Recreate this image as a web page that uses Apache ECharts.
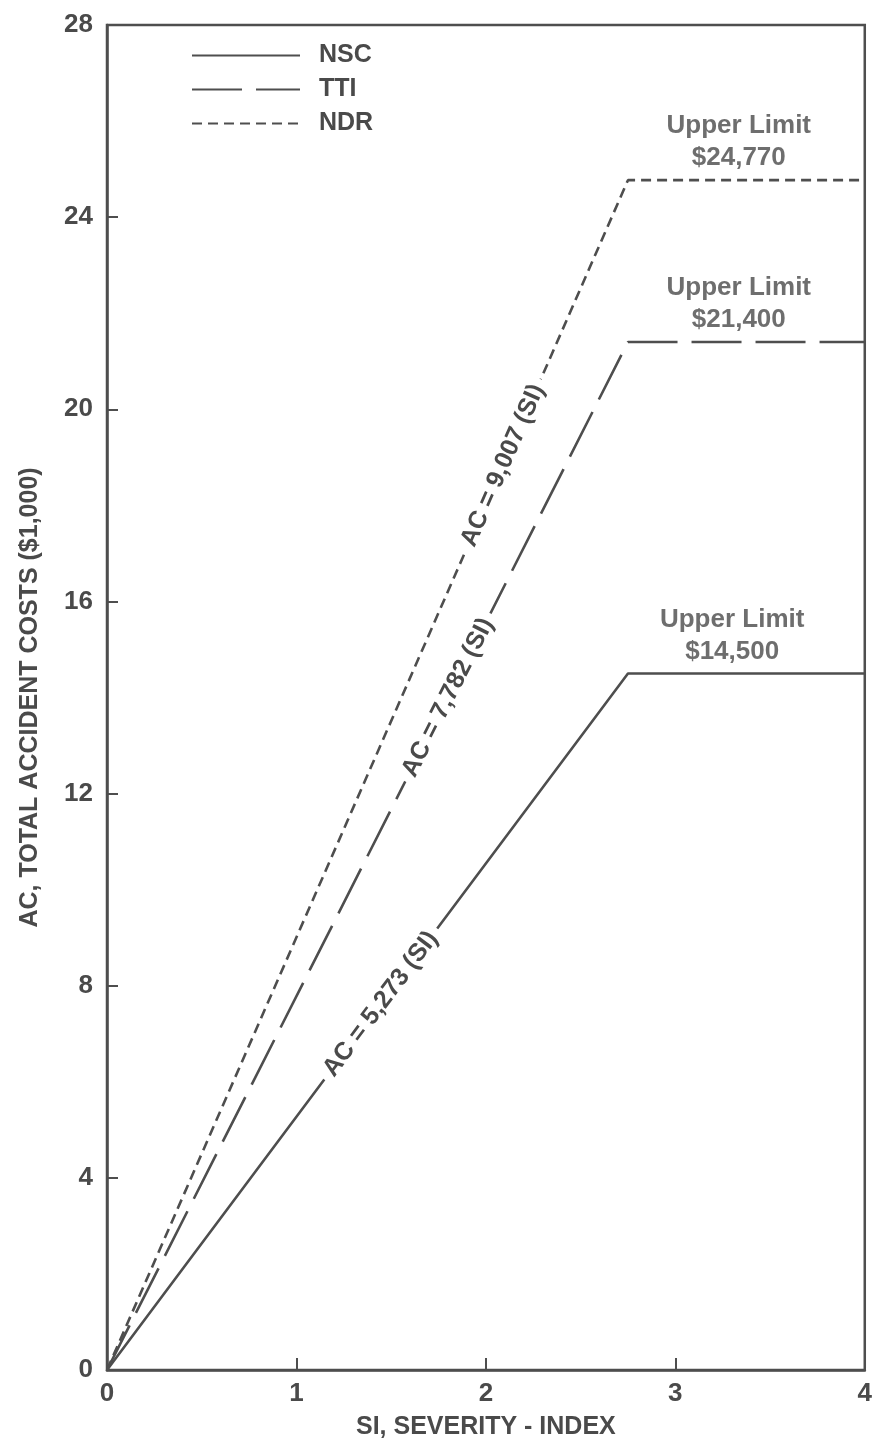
<!DOCTYPE html>
<html>
<head>
<meta charset="utf-8">
<script src="https://cdn.jsdelivr.net/npm/echarts@6/dist/echarts.min.js"></script>
<style>
  html, body { margin: 0; padding: 0; background: #ffffff; overflow: hidden; }
  #chart { width: 875px; height: 1452px; }
</style>
</head>
<body>
<div id="chart"></div>
<script>
// Accident cost models: AC ($1,000) against severity index SI
const seriesNames = ['NSC', 'TTI', 'NDR'];
const nscPoints = [[0, 0], [2.75, 14.5], [4, 14.5]];
const ttiPoints = [[0, 0], [2.75, 21.4], [4, 21.4]];
const ndrPoints = [[0, 0], [2.75, 24.77], [4, 24.77]];

// Equation labels written along each sloped segment
const equationLabels = ['AC = 5,273 (SI)', 'AC = 7,782 (SI)', 'AC = 9,007 (SI)'];
const equationAnchors = [[1.445, 7.62], [1.80, 14.0], [2.09, 18.83]];

// Cap labels above each flat segment
const limitLabels = ['Upper Limit\n$14,500', 'Upper Limit\n$21,400', 'Upper Limit\n$24,770'];
const limitAnchors = [[3.30, 14.5], [3.335, 21.4], [3.335, 24.77]];

const xTickMin = 0, xTickMax = 4, xTickStep = 1;
const yTickMin = 0, yTickMax = 28, yTickStep = 4;

const ink = '#4e4e4e';
const textInk = '#4a4a4a';
const font = '"Liberation Sans", Arial, Helvetica, sans-serif';
const dashes = ['solid', [50, 14], [10, 6]];
const allPoints = [nscPoints, ttiPoints, ndrPoints];

const textBase = { color: textInk, fontFamily: font, fontWeight: 'bold' };

const chart = echarts.init(document.getElementById('chart'), null, { renderer: 'canvas', width: 875, height: 1452 });

function lineSeries(i) {
  return {
    name: seriesNames[i],
    type: 'line',
    data: allPoints[i],
    symbol: 'none',
    z: 2,
    lineStyle: { color: ink, width: 2.6, type: dashes[i] },
    itemStyle: { color: ink },
    animation: false
  };
}

const limitSeries = {
  type: 'scatter',
  data: limitAnchors.map((p, i) => ({ value: p, label: { formatter: limitLabels[i] } })),
  symbolSize: 0,
  silent: true,
  z: 5,
  animation: false,
  label: Object.assign({
    show: true,
    position: 'top',
    distance: 6,
    align: 'center',
    fontSize: 26,
    lineHeight: 32
  }, textBase)
};

chart.setOption({
  backgroundColor: '#ffffff',
  animation: false,
  grid: {
    left: 107, top: 25, width: 764, height: 1345,
    show: true, borderColor: ink, borderWidth: 2.5, backgroundColor: 'transparent'
  },
  legend: {
    data: seriesNames,
    orient: 'vertical',
    left: 186,
    top: 38,
    itemWidth: 108,
    itemHeight: 24,
    itemGap: 9,
    itemStyle: { opacity: 0 },
    textStyle: Object.assign({ fontSize: 25, padding: [0, 0, 0, 14] }, textBase)
  },
  xAxis: {
    type: 'value',
    min: xTickMin, max: xTickMax, interval: xTickStep,
    name: 'SI, SEVERITY - INDEX',
    nameLocation: 'middle',
    nameGap: 45,
    nameTextStyle: Object.assign({ fontSize: 25 }, textBase),
    axisLine: { show: true, lineStyle: { color: ink, width: 2.5 } },
    axisTick: { show: true, inside: true, length: 12, lineStyle: { color: ink, width: 2 } },
    axisLabel: Object.assign({ fontSize: 26, margin: 11, showMaxLabel: true }, textBase),
    splitLine: { show: false }
  },
  yAxis: {
    type: 'value',
    min: yTickMin, max: yTickMax, interval: yTickStep,
    name: 'AC, TOTAL ACCIDENT COSTS ($1,000)',
    nameLocation: 'middle',
    nameGap: 64,
    nameTextStyle: Object.assign({ fontSize: 25 }, textBase),
    axisLine: { show: true, lineStyle: { color: ink, width: 2.5 } },
    axisTick: { show: true, inside: true, length: 11, lineStyle: { color: ink, width: 2 } },
    axisLabel: Object.assign({ fontSize: 26, margin: 14 }, textBase),
    splitLine: { show: false }
  },
  series: [lineSeries(0), lineSeries(1), lineSeries(2), limitSeries]
});

// Equation text laid along each rising segment, angled to its on-screen slope
function equationGraphics() {
  return equationAnchors.map((anchor, i) => {
    const pts = allPoints[i];
    const a = chart.convertToPixel({ gridIndex: 0 }, pts[0]);
    const b = chart.convertToPixel({ gridIndex: 0 }, pts[1]);
    const angle = Math.atan2(a[1] - b[1], b[0] - a[0]);
    const c = chart.convertToPixel({ gridIndex: 0 }, anchor);
    return {
      type: 'text',
      x: c[0],
      y: c[1],
      rotation: angle,
      z: 100,
      silent: true,
      style: {
        text: equationLabels[i],
        fill: textInk,
        font: 'bold 25px ' + font,
        align: 'center',
        verticalAlign: 'middle',
        backgroundColor: '#ffffff',
        padding: [0, 7]
      }
    };
  });
}

chart.setOption({ graphic: equationGraphics() });
</script>
</body>
</html>
